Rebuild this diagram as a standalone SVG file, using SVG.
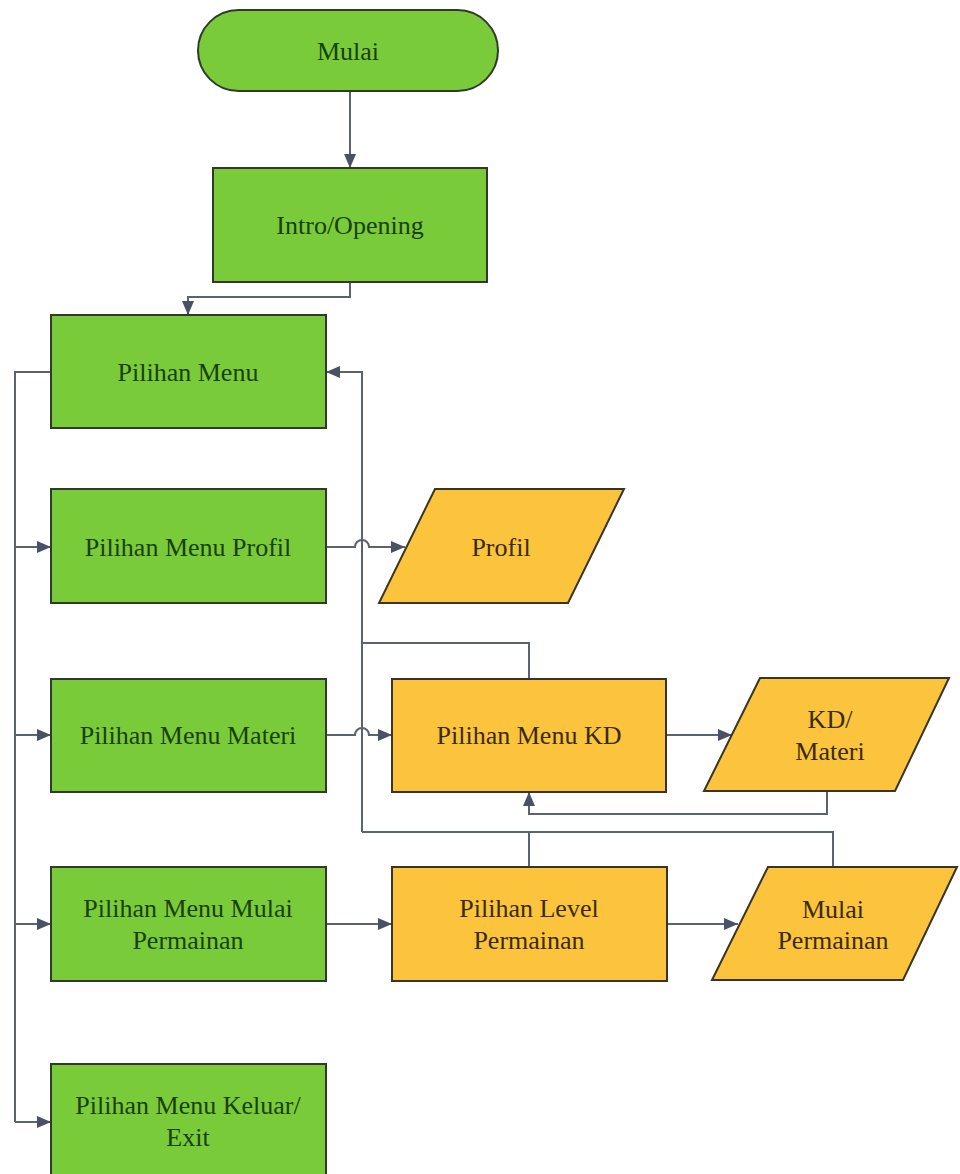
<svg xmlns="http://www.w3.org/2000/svg" width="960" height="1174" viewBox="0 0 960 1174">
<style>
.g{fill:#79CB3A;stroke:#2f3a2a;stroke-width:2}
.o{fill:#FBC43C;stroke:#3a3428;stroke-width:2}
.tg{font-family:"Liberation Serif","Times New Roman",serif;font-size:26px;fill:#1a400e;text-anchor:middle;dominant-baseline:central}
.to{font-family:"Liberation Serif","Times New Roman",serif;font-size:26px;fill:#3a2a08;text-anchor:middle;dominant-baseline:central}
.c{fill:none;stroke:#5b6272;stroke-width:2}
</style>
<defs>
<marker id="ah" viewBox="0 0 14 12" refX="14" refY="6" markerWidth="14" markerHeight="12" markerUnits="userSpaceOnUse" orient="auto">
<path d="M0,0 L14,6 L0,12 Z" fill="#4a5166"/>
</marker>
</defs>
<rect width="960" height="1174" fill="#ffffff"/>
<g id="connectors">
<path class="c" d="M350,91 V168" marker-end="url(#ah)"/>
<path class="c" d="M350,282 V297 H188 V315" marker-end="url(#ah)"/>
<path class="c" d="M51,372 H15 V1122"/>
<path class="c" d="M15,547 H51" marker-end="url(#ah)"/>
<path class="c" d="M15,735 H51" marker-end="url(#ah)"/>
<path class="c" d="M15,924 H51" marker-end="url(#ah)"/>
<path class="c" d="M15,1122 H51" marker-end="url(#ah)"/>
<path class="c" d="M529,679 V643 H362"/>
<path class="c" d="M833,867 V832 H362"/>
<path class="c" d="M529,867 V832"/>
<path class="c" d="M362,832 V372 H326" marker-end="url(#ah)"/>
<path class="c" d="M326,547 H355 A7,7 0 0 1 369,547 H405" marker-end="url(#ah)"/>
<path class="c" d="M326,735 H355 A7,7 0 0 1 369,735 H392" marker-end="url(#ah)"/>
<path class="c" d="M666,735 H732" marker-end="url(#ah)"/>
<path class="c" d="M827,791 V814 H529 V792" marker-end="url(#ah)"/>
<path class="c" d="M326,924 H392" marker-end="url(#ah)"/>
<path class="c" d="M667,924 H738" marker-end="url(#ah)"/>
</g>
<g id="n-mulai">
<rect class="g" x="198" y="10" width="300" height="81" rx="40.5"/>
<text class="tg" x="348" y="51">Mulai</text>
</g>
<g id="n-intro">
<rect class="g" x="213" y="168" width="274" height="114"/>
<text class="tg" x="350" y="225">Intro/Opening</text>
</g>
<g id="n-menu">
<rect class="g" x="51" y="315" width="275" height="113"/>
<text class="tg" x="188" y="372">Pilihan Menu</text>
</g>
<g id="n-profil-menu">
<rect class="g" x="51" y="489" width="275" height="114"/>
<text class="tg" x="188" y="547">Pilihan Menu Profil</text>
</g>
<g id="n-materi-menu">
<rect class="g" x="51" y="679" width="275" height="113"/>
<text class="tg" x="188" y="735">Pilihan Menu Materi</text>
</g>
<g id="n-mulai-menu">
<rect class="g" x="51" y="867" width="275" height="114"/>
<text class="tg" x="188" y="908">Pilihan Menu Mulai</text>
<text class="tg" x="188" y="940">Permainan</text>
</g>
<g id="n-keluar">
<rect class="g" x="51" y="1064" width="275" height="113"/>
<text class="tg" x="188" y="1105">Pilihan Menu Keluar/</text>
<text class="tg" x="188" y="1137">Exit</text>
</g>
<g id="n-profil">
<polygon class="o" points="435,489 624,489 568,603 379,603"/>
<text class="to" x="501" y="547">Profil</text>
</g>
<g id="n-kd">
<rect class="o" x="392" y="679" width="274" height="113"/>
<text class="to" x="529" y="735">Pilihan Menu KD</text>
</g>
<g id="n-kd-materi">
<polygon class="o" points="760,678 949,678 895,791 704,791"/>
<text class="to" x="830" y="719">KD/</text>
<text class="to" x="830" y="751">Materi</text>
</g>
<g id="n-level">
<rect class="o" x="392" y="867" width="275" height="114"/>
<text class="to" x="529" y="908">Pilihan Level</text>
<text class="to" x="529" y="940">Permainan</text>
</g>
<g id="n-mulai-permainan">
<polygon class="o" points="768,867 957,867 903,980 712,980"/>
<text class="to" x="833" y="909">Mulai</text>
<text class="to" x="833" y="940">Permainan</text>
</g>
</svg>
